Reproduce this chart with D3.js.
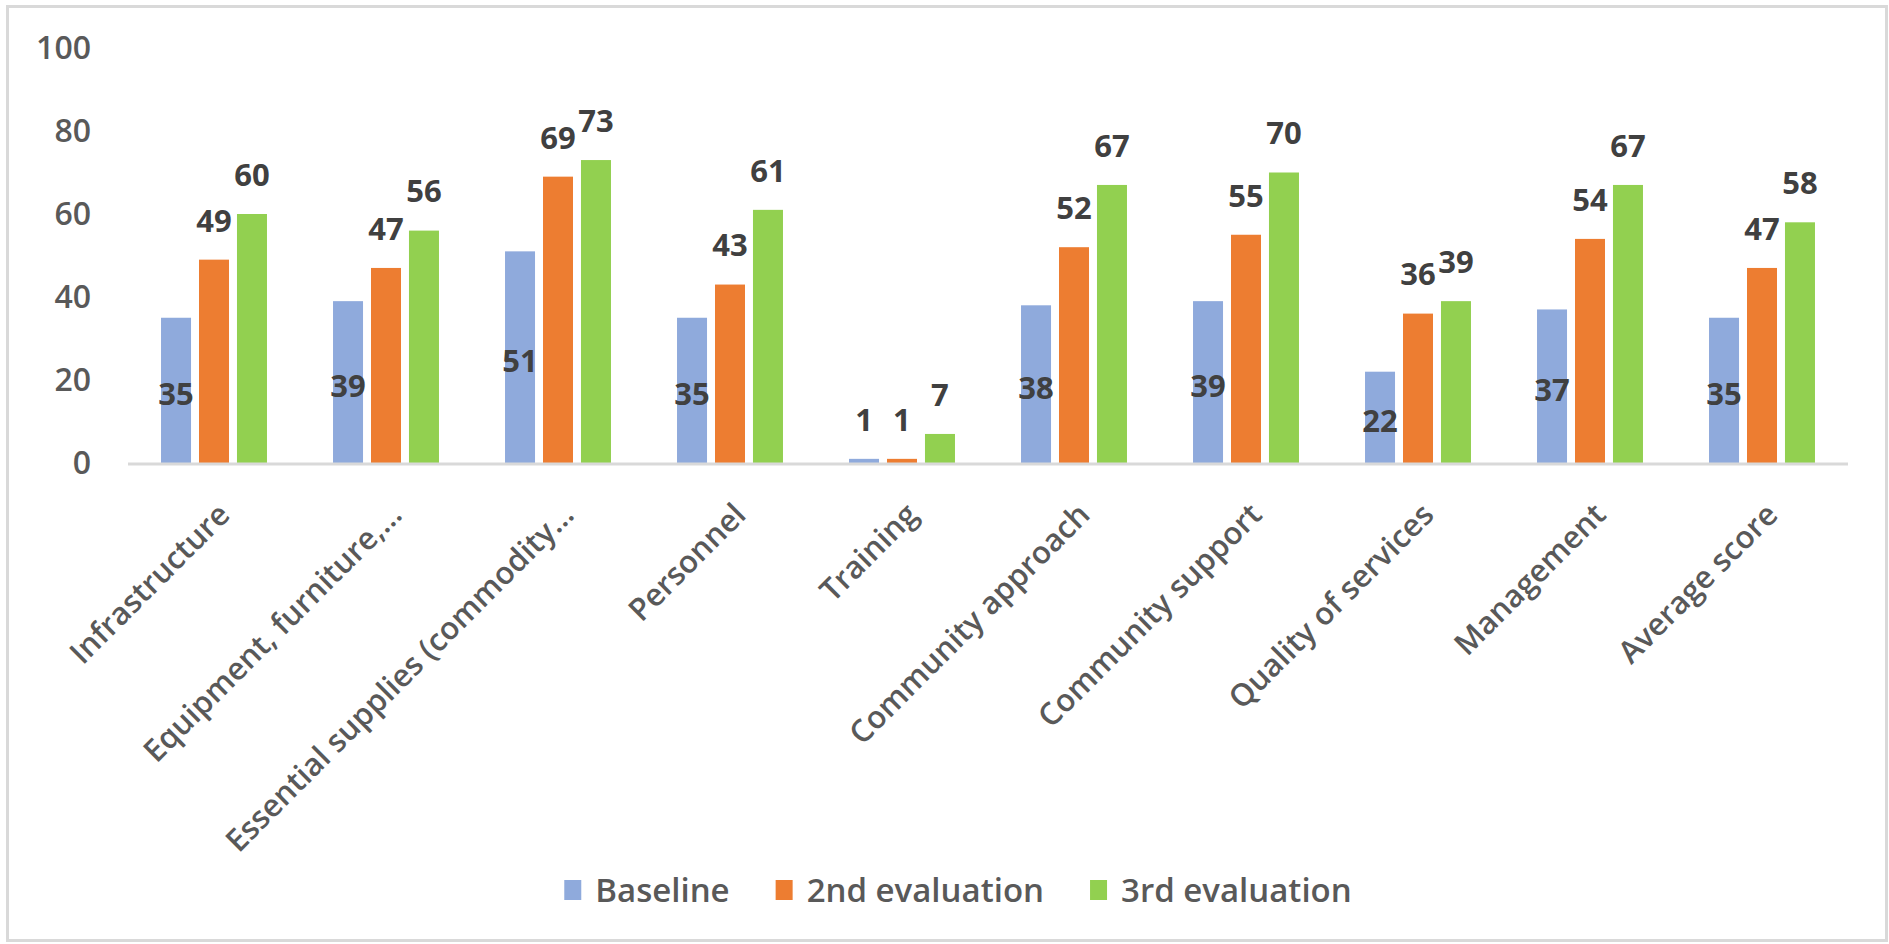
<!DOCTYPE html>
<html>
<head>
<meta charset="utf-8">
<script src="https://cdn.jsdelivr.net/npm/d3@7"></script>
<style>
  html, body { margin: 0; padding: 0; background: #fff; }
  svg text { font-family: "Open Sans", "Noto Sans", sans-serif; }
</style>
</head>
<body>
<div id="chart"></div>
<script>
// chart data
const categories = ["Infrastructure", "Equipment, furniture,…", "Essential supplies (commodity…",
  "Personnel", "Training", "Community approach", "Community support",
  "Quality of services", "Management", "Average score"];
const seriesNames = ["Baseline", "2nd evaluation", "3rd evaluation"];
const baseline = [35, 39, 51, 35, 1, 38, 39, 22, 37, 35];
const secondEval = [49, 47, 69, 43, 1, 52, 55, 36, 54, 47];
const thirdEval = [60, 56, 73, 61, 7, 67, 70, 39, 67, 58];
const yTicks = [0, 20, 40, 60, 80, 100];

const colors = ["#8FAADC", "#ED7D31", "#92D050"];
const series = [baseline, secondEval, thirdEval];

const w = 1889, h = 944;
const plotLeft = 128, plotRight = 1848, plotTop = 48, plotBottom = 463;

let svg = d3.select("#chart").append("svg")
  .attr("width", w)
  .attr("height", h);

// outer frame
svg.append("rect")
  .attr("x", 7.5).attr("y", 6.5)
  .attr("width", 1879).attr("height", 934)
  .attr("fill", "#fff")
  .attr("stroke", "#d9d9d9")
  .attr("stroke-width", 3);

let x = d3.scaleBand()
  .domain(categories)
  .range([plotLeft, plotRight])
  .paddingInner(0.384)
  .paddingOuter(0.192);

let xSub = d3.scaleBand()
  .domain(d3.range(series.length))
  .range([0, x.bandwidth()])
  .paddingInner(0.21);

let y = d3.scaleLinear()
  .domain([0, 100])
  .range([plotBottom, plotTop]);

// y tick labels (no grid, no axis line)
let yAxis = d3.axisLeft(y).tickValues(yTicks).tickSize(0).tickPadding(0);
let gy = svg.append("g")
  .attr("transform", "translate(91,0)")
  .call(yAxis);
gy.select(".domain").remove();
gy.selectAll("text")
  .attr("font-family", null)
  .attr("font-size", 32)
  .attr("font-weight", 600)
  .attr("fill", "#595959");

// bars
let groups = svg.selectAll("g.cat")
  .data(categories)
  .enter()
  .append("g")
  .attr("class", "cat")
  .attr("transform", d => "translate(" + x(d) + ",0)");

groups.each(function(cat, i) {
  let g = d3.select(this);
  series.forEach((vals, s) => {
    g.append("rect")
      .attr("x", xSub(s))
      .attr("y", y(vals[i]))
      .attr("width", xSub.bandwidth())
      .attr("height", plotBottom - y(vals[i]))
      .attr("fill", colors[s]);
  });
});

// category axis line
svg.append("line")
  .attr("x1", plotLeft).attr("x2", plotRight)
  .attr("y1", plotBottom + 1).attr("y2", plotBottom + 1)
  .attr("stroke", "#d9d9d9")
  .attr("stroke-width", 3);

// data labels: baseline inside the bar middle, the others above the bar
groups.each(function(cat, i) {
  let g = d3.select(this);
  series.forEach((vals, s) => {
    let barTop = y(vals[i]);
    let cy;
    if (s == 0 && plotBottom - barTop > 40) cy = (barTop + plotBottom) / 2 + 4;
    else cy = barTop - 39;
    g.append("text")
      .attr("x", xSub(s) + xSub.bandwidth() / 2)
      .attr("y", cy)
      .attr("dy", "0.35em")
      .attr("text-anchor", "middle")
      .attr("font-size", 31)
      .attr("font-weight", 700)
      .attr("fill", "#404040")
      .text(vals[i]);
  });
});

// rotated category labels
svg.selectAll("text.cat-label")
  .data(categories)
  .enter()
  .append("text")
  .attr("class", "cat-label")
  .attr("transform", d => "translate(" + (x(d) + x.bandwidth() / 2 + 10) + "," + (plotBottom + 46) + ") rotate(-45)")
  .attr("text-anchor", "end")
  .attr("dy", "0.35em")
  .attr("font-size", 31)
  .attr("font-weight", 600)
  .attr("fill", "#595959")
  .text(d => d);

// legend
let legend = svg.append("g");
let lx = 0;
seriesNames.forEach((name, s) => {
  let item = legend.append("g").attr("transform", "translate(" + lx + ",0)");
  item.append("rect")
    .attr("x", 0).attr("y", -10)
    .attr("width", 17).attr("height", 20)
    .attr("fill", colors[s]);
  let t = item.append("text")
    .attr("x", 31).attr("y", 0)
    .attr("dy", "0.35em")
    .attr("font-size", 33)
    .attr("font-weight", 600)
    .attr("fill", "#595959")
    .text(name);
  lx += 31 + t.node().getComputedTextLength() + 46;
});
lx -= 46;
legend.attr("transform", "translate(" + (958 - lx / 2) + ",890)");
</script>
</body>
</html>
